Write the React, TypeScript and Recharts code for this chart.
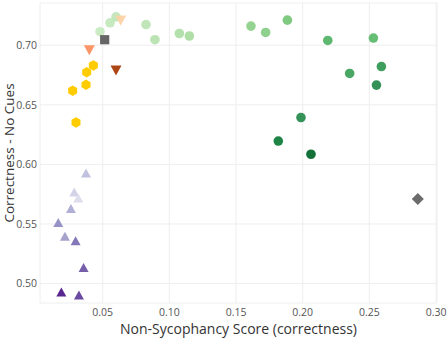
import { ScatterChart, Scatter, XAxis, YAxis, CartesianGrid, Cell } from "recharts";

// Non-sycophancy score vs correctness (no cues), grouped by marker family

const greenX = [0.048, 0.0555, 0.06, 0.0825, 0.0892, 0.1075, 0.115, 0.1612, 0.1722, 0.1885, 0.2188, 0.253, 0.259, 0.2352, 0.2553, 0.1987, 0.1817, 0.2062];
const greenY = [0.7113, 0.7188, 0.7238, 0.7173, 0.7046, 0.7098, 0.7077, 0.716, 0.7107, 0.721, 0.704, 0.706, 0.6821, 0.6763, 0.6665, 0.6393, 0.6196, 0.6085];
const greenColors = [
  "#c7e9c0", "#c2e7ba", "#bfe5b8", "#bae3b3", "#b5e1ae", "#addda5", "#a8db9f",
  "#8ccf88", "#86cc84", "#74c476", "#50b264", "#58b868", "#2f9650", "#3a9f56",
  "#22884a", "#24894a", "#0a7a36", "#006428",
];

const purpleX = [0.0375, 0.0287, 0.0317, 0.0262, 0.0167, 0.0217, 0.0297, 0.0357, 0.019, 0.0322];
const purpleY = [0.5927, 0.5768, 0.5718, 0.5629, 0.5513, 0.5398, 0.536, 0.5135, 0.4929, 0.4904];
const purpleColors = ["#bcbddc", "#cfcfe6", "#dadaeb", "#aaa9d2", "#8f8ac2", "#9e9ac8", "#7a6cb2", "#6a51a3", "#4a1486", "#5e3c99"];

const yellowX = [0.043, 0.038, 0.0375, 0.0275, 0.030];
const yellowY = [0.683, 0.6773, 0.6668, 0.6618, 0.6352];

const downX = [0.040, 0.0635, 0.060];
const downY = [0.6957, 0.7207, 0.6788];
const downColors = ["#fc8d59", "#fdd0a2", "#a63603"];

const squareX = [0.0515];
const squareY = [0.7046];

const diamondX = [0.2863];
const diamondY = [0.571];

const xTicks = [0.05, 0.1, 0.15, 0.2, 0.25, 0.3];
const yTicks = [0.5, 0.55, 0.6, 0.65, 0.7];

const toPoints = (xs: number[], ys: number[]) => xs.map((x, i) => ({ x, y: ys[i] }));

const FONT = "'Open Sans', sans-serif";

function Dot(props: any) {
  const { cx, cy, fill } = props;
  return <circle cx={cx} cy={cy} r={4.8} fill={fill} fillOpacity={0.92} />;
}

function Hexagon(props: any) {
  const { cx, cy, fill } = props;
  const r = 5.2;
  const pts = [0, 1, 2, 3, 4, 5]
    .map((k) => {
      const a = (Math.PI / 3) * k - Math.PI / 2;
      return `${cx + r * Math.cos(a)},${cy + r * Math.sin(a)}`;
    })
    .join(" ");
  return <polygon points={pts} fill={fill} />;
}

function TriangleUp(props: any) {
  const { cx, cy, fill } = props;
  const w = 5, h = 4.5;
  return <polygon points={`${cx},${cy - h} ${cx + w},${cy + h} ${cx - w},${cy + h}`} fill={fill} fillOpacity={0.92} />;
}

function TriangleDown(props: any) {
  const { cx, cy, fill } = props;
  const w = 5.5, h = 5;
  return <polygon points={`${cx - w},${cy - h} ${cx + w},${cy - h} ${cx},${cy + h}`} fill={fill} fillOpacity={0.92} />;
}

function Square(props: any) {
  const { cx, cy, fill } = props;
  const s = 4.6;
  return <rect x={cx - s} y={cy - s} width={s * 2} height={s * 2} fill={fill} />;
}

function Diamond(props: any) {
  const { cx, cy, fill } = props;
  const r = 6;
  return <polygon points={`${cx},${cy - r} ${cx + r},${cy} ${cx},${cy + r} ${cx - r},${cy}`} fill={fill} />;
}

export default function App() {
  const tick = { fontSize: 10.5, fill: "#555", fontFamily: FONT };
  return (
    <div style={{ position: "absolute", left: 0, top: 0 }}>
      <ScatterChart width={448} height={340} margin={{ top: 3, right: 11, bottom: 0, left: 0 }}>
        <CartesianGrid stroke="#eeeeee" strokeWidth={1} />
        <XAxis
          type="number"
          dataKey="x"
          domain={[0.003, 0.3007]}
          ticks={xTicks}
          tickFormatter={(v: number) => v.toFixed(2)}
          axisLine={false}
          tickLine={false}
          tickSize={0}
          tickMargin={6}
          height={37}
          tick={tick}
          allowDataOverflow
          label={{
            value: "Non-Sycophancy Score (correctness)",
            position: "insideBottom",
            offset: 6,
            style: { fontSize: 14, fill: "#333", fontFamily: FONT },
          }}
        />
        <YAxis
          type="number"
          dataKey="y"
          domain={[0.4837, 0.7354]}
          ticks={yTicks}
          tickFormatter={(v: number) => v.toFixed(2)}
          axisLine={false}
          tickLine={false}
          tickSize={0}
          tickMargin={3}
          width={40}
          tick={tick}
          allowDataOverflow
          label={{
            value: "Correctness - No Cues",
            angle: -90,
            position: "insideLeft",
            offset: 9,
            style: { fontSize: 13.5, fill: "#333", fontFamily: FONT, textAnchor: "middle" },
          }}
        />
        <Scatter data={toPoints(greenX, greenY)} shape={Dot} isAnimationActive={false}>
          {greenColors.map((c, i) => (
            <Cell key={i} fill={c} />
          ))}
        </Scatter>
        <Scatter data={toPoints(purpleX, purpleY)} shape={TriangleUp} isAnimationActive={false}>
          {purpleColors.map((c, i) => (
            <Cell key={i} fill={c} />
          ))}
        </Scatter>
        <Scatter data={toPoints(yellowX, yellowY)} shape={Hexagon} fill="#ffcc00" isAnimationActive={false} />
        <Scatter data={toPoints(downX, downY)} shape={TriangleDown} isAnimationActive={false}>
          {downColors.map((c, i) => (
            <Cell key={i} fill={c} />
          ))}
        </Scatter>
        <Scatter data={toPoints(squareX, squareY)} shape={Square} fill="#666666" isAnimationActive={false} />
        <Scatter data={toPoints(diamondX, diamondY)} shape={Diamond} fill="#6b6b6b" isAnimationActive={false} />
      </ScatterChart>
    </div>
  );
}
